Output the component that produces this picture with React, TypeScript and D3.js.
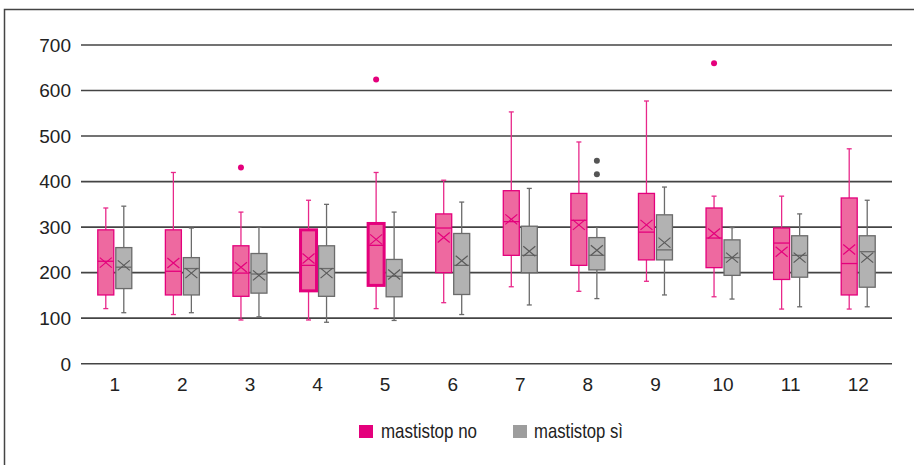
import React from 'react';
import * as d3 from 'd3';

// categories (mesi)
const categories = ['1', '2', '3', '4', '5', '6', '7', '8', '9', '10', '11', '12'];
const yTicks = [0, 100, 200, 300, 400, 500, 600, 700];

// mastistop no
const noLow = [121, 108, 96, 96, 121, 134, 169, 159, 181, 147, 120, 120];
const noQ1 = [151, 151, 148, 160, 172, 200, 238, 216, 228, 211, 185, 151];
const noMedian = [225, 203, 199, 216, 260, 298, 312, 315, 289, 276, 265, 220];
const noQ3 = [294, 294, 259, 294, 308, 329, 380, 374, 374, 342, 298, 364];
const noHigh = [342, 420, 333, 359, 420, 403, 553, 487, 577, 368, 368, 472];
const noMean = [222, 221, 212, 231, 273, 277, 317, 305, 305, 286, 246, 251];
const noOutliers: [string, number][] = [['3', 431], ['5', 624], ['10', 660]];
const noBold = ['4', '5'];

// mastistop sì
const siLow = [112, 112, 103, 91, 95, 108, 129, 143, 151, 142, 125, 125];
const siQ1 = [165, 151, 155, 148, 147, 152, 200, 206, 228, 194, 190, 168];
const siMedian = [212, 209, 197, 209, 192, 216, 238, 238, 250, 233, 238, 246];
const siQ3 = [255, 233, 242, 259, 229, 286, 302, 277, 327, 272, 281, 281];
const siHigh = [346, 298, 300, 350, 333, 355, 385, 301, 388, 299, 329, 359];
const siMean = [216, 199, 194, 199, 196, 226, 247, 249, 266, 233, 233, 233];
const siOutliers: [string, number][] = [['8', 416], ['8', 446]];

const W = 914;
const H = 465;
const left = 81;
const right = 892;

const x = d3.scaleBand<string>().domain(categories).range([left, right]);
const y = d3.scaleLinear().domain([0, 700]).range([363.7, 45]);

const boxW = 16;
const offset = 9;

type Style = { fill: string; stroke: string; whisker: string; mean: string; dot: string };
const pinkStyle: Style = { fill: '#ee69a0', stroke: '#e4007c', whisker: '#e8288a', mean: '#e4007c', dot: '#e4007c' };
const grayStyle: Style = { fill: '#b2b2b2', stroke: '#6b6b6b', whisker: '#6b6b6b', mean: '#5a5a5a', dot: '#555555' };

function Boxes({ low, q1, med, q3, high, mean, outliers, dx, st, bold }: {
  low: number[]; q1: number[]; med: number[]; q3: number[]; high: number[]; mean: number[];
  outliers: [string, number][]; dx: number; st: Style; bold: string[];
}) {
  return (
    <g>
      {categories.map((c, i) => {
        const cx = (x(c) as number) + x.bandwidth() / 2 + dx;
        const b = bold.includes(c);
        const my = y(mean[i]);
        return (
          <g key={c}>
            <line x1={cx} x2={cx} y1={y(high[i])} y2={y(q3[i])} stroke={st.whisker} strokeWidth={1.3} />
            <line x1={cx} x2={cx} y1={y(q1[i])} y2={y(low[i])} stroke={st.whisker} strokeWidth={1.3} />
            <line x1={cx - 2.5} x2={cx + 2.5} y1={y(high[i])} y2={y(high[i])} stroke={st.whisker} strokeWidth={1.3} />
            <line x1={cx - 2.5} x2={cx + 2.5} y1={y(low[i])} y2={y(low[i])} stroke={st.whisker} strokeWidth={1.3} />
            <rect x={cx - boxW / 2} y={y(q3[i])} width={boxW} height={y(q1[i]) - y(q3[i])}
              fill={st.fill} stroke={st.stroke} strokeWidth={b ? 3 : 1.3} />
            <line x1={cx - boxW / 2} x2={cx + boxW / 2} y1={y(med[i])} y2={y(med[i])} stroke={st.stroke} strokeWidth={1.3} />
            <path d={`M${cx - 6},${my - 5}L${cx + 6},${my + 5}M${cx - 6},${my + 5}L${cx + 6},${my - 5}`}
              stroke={st.mean} strokeWidth={1.2} fill="none" />
          </g>
        );
      })}
      {outliers.map(([c, v], i) => (
        <circle key={i} cx={(x(c) as number) + x.bandwidth() / 2 + dx} cy={y(v)} r={3} fill={st.dot} />
      ))}
    </g>
  );
}

export default function App() {
  const axisFont = '"Liberation Sans", Arial, sans-serif';
  const legendFont = '"Liberation Sans", Arial, sans-serif';
  return (
    <svg width={W} height={H} style={{ position: 'absolute', left: 0, top: 0 }}>
      <rect x={0} y={0} width={W} height={H} fill="#fff" />
      <rect x={4.5} y={9.5} width={W + 20} height={H + 20} fill="none" stroke="#444" strokeWidth={1.5} />
      {yTicks.map(t => (
        <g key={t}>
          <line x1={left} x2={right} y1={y(t)} y2={y(t)} stroke="#444" strokeWidth={1.6} />
          <text x={71} y={y(t)} dy="0.36em" textAnchor="end" fontFamily={axisFont} fontSize={19} fill="#222">{t}</text>
        </g>
      ))}
      {categories.map(c => (
        <text key={c} x={(x(c) as number) + x.bandwidth() / 2} y={390.7} textAnchor="middle"
          fontFamily={axisFont} fontSize={19} fill="#222">{c}</text>
      ))}
      <Boxes low={siLow} q1={siQ1} med={siMedian} q3={siQ3} high={siHigh} mean={siMean}
        outliers={siOutliers} dx={offset} st={grayStyle} bold={[]} />
      <Boxes low={noLow} q1={noQ1} med={noMedian} q3={noQ3} high={noHigh} mean={noMean}
        outliers={noOutliers} dx={-offset} st={pinkStyle} bold={noBold} />
      <g>
        <rect x={359} y={425} width={14} height={13} fill="#e4007c" />
        <text x={381} y={438} fontFamily={legendFont} fontSize={21} fill="#222"
          textLength={96} lengthAdjust="spacingAndGlyphs">mastistop no</text>
        <rect x={513} y={425} width={14} height={13} fill="#9d9d9d" />
        <text x={534} y={438} fontFamily={legendFont} fontSize={21} fill="#222"
          textLength={89} lengthAdjust="spacingAndGlyphs">mastistop sì</text>
      </g>
    </svg>
  );
}
